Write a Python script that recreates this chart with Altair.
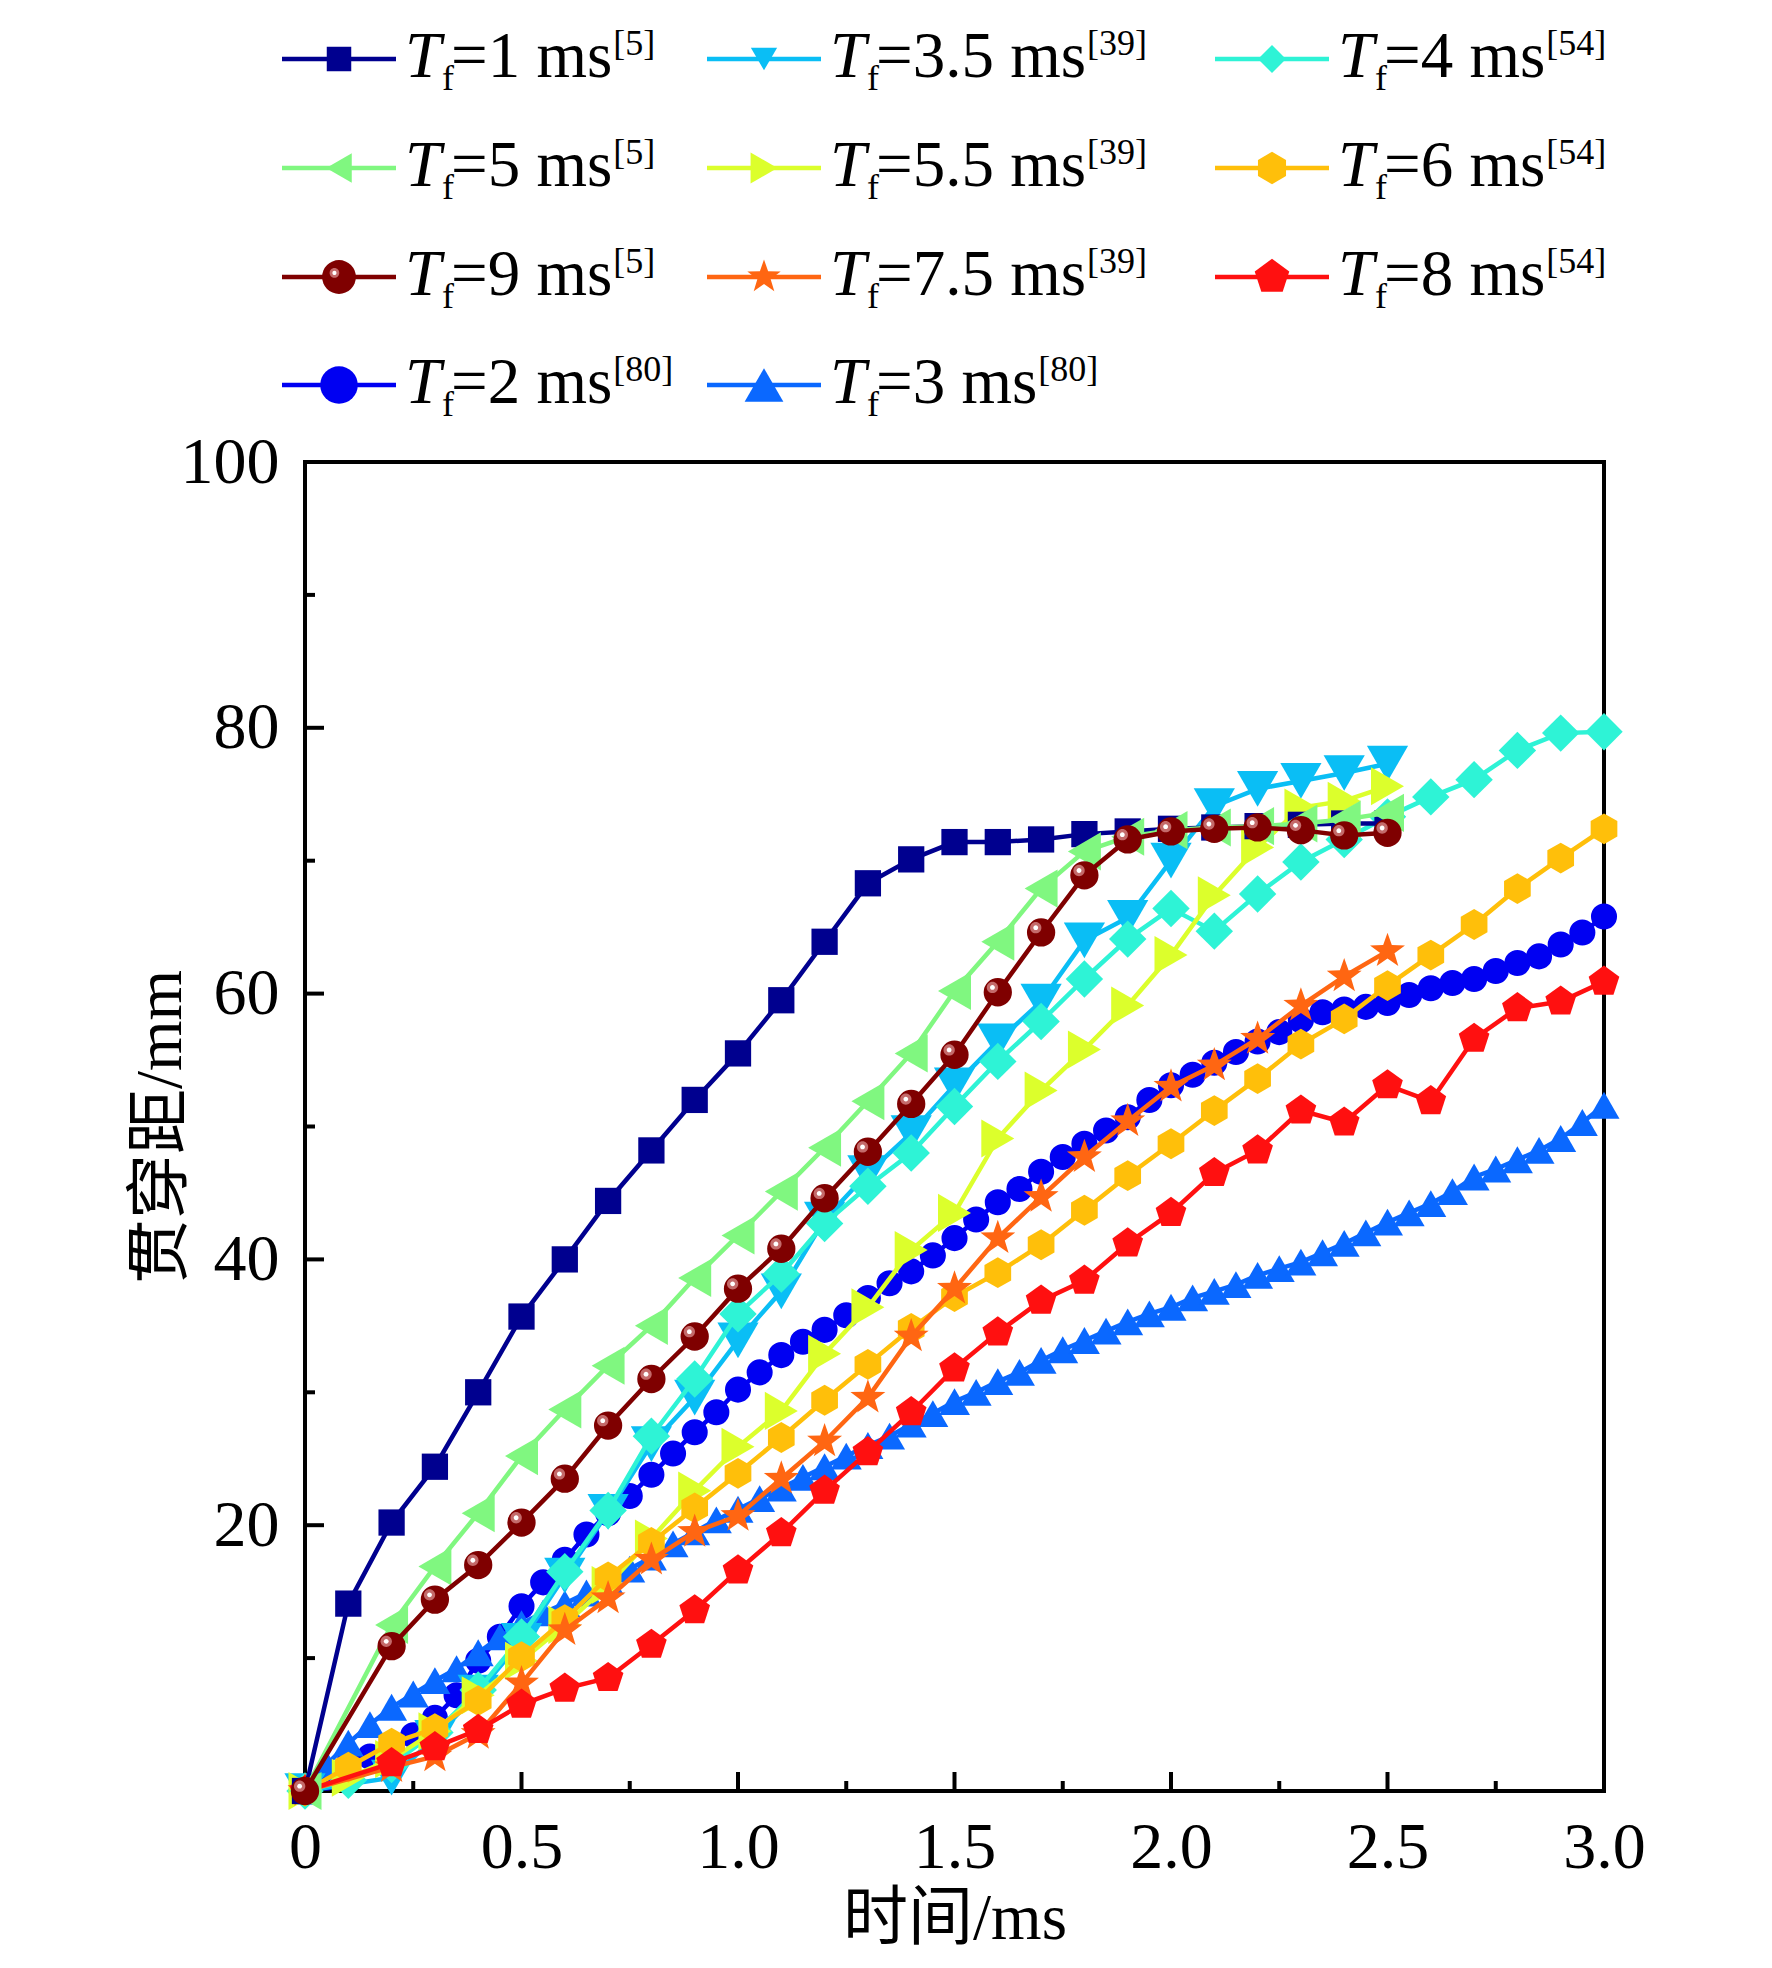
import altair as alt
import pandas as pd

# ------------------------------------------------------------------ data
T_01_25 = [round(0.1 * i, 2) for i in range(26)]            # 0 .. 2.5
T_0_02_25 = [0.0] + [round(0.1 * i, 2) for i in range(2, 26)]  # 0, 0.2 .. 2.5
T_01_30 = [round(0.1 * i, 2) for i in range(31)]            # 0 .. 3.0
T_0_02_30 = [0.0] + [round(0.1 * i, 2) for i in range(2, 31)]  # 0, 0.2 .. 3.0
T_005_30 = [round(0.05 * i, 2) for i in range(61)]          # 0 .. 3.0 step 0.05

Y_1MS = [0, 14.1, 20.2, 24.4, 30.0, 35.7, 40.0, 44.4, 48.2, 52.0, 55.5, 59.5, 63.9,
         68.3, 70.1, 71.4, 71.4, 71.6, 72.0, 72.2, 72.4, 72.5, 72.6, 72.7, 72.8, 72.8]
Y_35MS = [0, 1.0, 4.0, 7.4, 11.3, 16.2, 21.0, 26.1, 29.6, 33.9, 37.6, 43.0, 46.5,
          49.5, 53.1, 56.4, 59.4, 64.0, 65.7, 70.0, 74.1, 75.4, 76.0, 76.6, 77.3]
Y_4MS = [0, 0.8, 2.0, 4.4, 7.6, 11.6, 16.5, 21.1, 26.7, 31.0, 35.9, 38.9, 42.7, 45.5,
         48.0, 51.5, 54.9, 57.9, 61.1, 64.1, 66.4, 64.7, 67.5, 69.9, 71.6, 73.3, 74.8,
         76.1, 78.3, 79.6, 79.7]
Y_5MS = [0, 12.5, 16.9, 20.9, 25.2, 28.7, 32.0, 35.0, 38.6, 41.8, 45.1, 48.4, 51.9,
         55.5, 60.2, 63.9, 67.9, 70.7, 71.8, 72.3, 72.5, 72.6, 72.8, 73.1, 73.6]
Y_55MS = [0, 1.0, 2.4, 4.5, 7.2, 9.8, 12.5, 15.5, 19.0, 22.6, 25.9, 28.6, 32.9, 36.4,
          40.7, 43.5, 49.1, 52.7, 55.8, 59.1, 62.9, 67.4, 71.0, 74.0, 74.5, 75.6]
Y_6MS = [0, 1.8, 3.6, 4.7, 6.8, 10.1, 12.9, 16.1, 18.7, 21.3, 23.9, 26.6, 29.4, 32.1,
         34.8, 37.2, 39.0, 41.1, 43.7, 46.3, 48.7, 51.2, 53.6, 56.2, 58.1, 60.6, 62.9,
         65.2, 67.9, 70.2, 72.4]
Y_9MS = [0, 10.9, 14.4, 17.0, 20.2, 23.5, 27.5, 31.0, 34.2, 37.8, 40.8, 44.6, 48.1,
         51.7, 55.4, 60.1, 64.6, 68.9, 71.6, 72.2, 72.4, 72.5, 72.3, 71.9, 72.1]
Y_75MS = [0, 1.8, 2.6, 4.3, 8.1, 12.1, 14.5, 17.4, 19.5, 20.7, 23.5, 26.3, 29.6, 34.2,
          37.8, 41.6, 44.7, 47.7, 50.4, 53.0, 54.6, 56.6, 59.1, 61.3, 63.2]
Y_8MS = [0, 2.1, 3.3, 4.6, 6.5, 7.7, 8.5, 11.0, 13.6, 16.6, 19.4, 22.6, 25.5, 28.5,
         31.8, 34.5, 36.9, 38.4, 41.2, 43.5, 46.5, 48.2, 51.2, 50.3, 53.1, 51.9, 56.6,
         58.9, 59.4, 60.9]
Y_2MS = [0, 1.0, 2.0, 2.6, 3.3, 4.2, 5.5, 7.2, 9.8, 11.6, 13.9, 15.7, 17.4, 19.3, 20.9,
         22.2, 23.8, 25.4, 27.0, 28.5, 30.2, 31.5, 32.8, 33.8, 34.7, 35.8, 37.1, 38.2,
         39.1, 40.3, 41.6, 43.0, 44.3, 45.3, 46.6, 47.7, 48.7, 49.7, 50.7, 52.0, 53.1,
         53.9, 54.8, 55.6, 56.4, 57.1, 58.0, 58.6, 58.8, 59.0, 59.3, 59.9, 60.4, 60.8,
         61.1, 61.7, 62.3, 62.8, 63.7, 64.6, 65.8]
Y_3MS = [0, 2.0, 3.6, 5.0, 6.3, 7.3, 8.3, 9.2, 10.4, 11.6, 12.6, 13.4, 14.1, 14.9, 15.8,
         16.7, 17.6, 18.6, 19.5, 20.4, 21.2, 22.0, 22.8, 23.6, 24.4, 25.2, 26.0, 26.7,
         27.6, 28.4, 29.3, 30.0, 30.8, 31.5, 32.4, 33.2, 33.9, 34.6, 35.3, 35.9, 36.4,
         37.1, 37.6, 38.1, 38.8, 39.3, 39.8, 40.5, 41.2, 42.0, 42.8, 43.5, 44.2, 45.1,
         46.2, 46.8, 47.5, 48.2, 49.1, 50.3, 51.6]

# legend order (row-major, 3 columns)
KEYS = ["1", "3.5", "4", "5", "5.5", "6", "9", "7.5", "8", "2", "3"]
LABELS = ["=1 ms", "=3.5 ms", "=4 ms", "=5 ms", "=5.5 ms", "=6 ms",
          "=9 ms", "=7.5 ms", "=8 ms", "=2 ms", "=3 ms"]
REFS = ["[5]", "[39]", "[54]", "[5]", "[39]", "[54]", "[5]", "[39]", "[54]", "[80]", "[80]"]

X_TICKS = [0, 0.5, 1.0, 1.5, 2.0, 2.5, 3.0]
Y_TICKS = [20, 40, 60, 80, 100]
X_MINOR = [0.25, 0.75, 1.25, 1.75, 2.25, 2.75]
X_MAJOR_IN = [0.5, 1.0, 1.5, 2.0, 2.5]
Y_MINOR = [10, 30, 50, 70, 90]
Y_MAJOR_IN = [20, 40, 60, 80]

# ------------------------------------------------------------------ styles
STAR = ("M0,-1 L0.235,-0.324 L0.951,-0.309 L0.380,0.124 L0.588,0.809 L0,0.4 "
        "L-0.588,0.809 L-0.380,0.124 L-0.951,-0.309 L-0.235,-0.324 Z")
PENT = "M0,-1 L0.951,-0.309 L0.588,0.809 L-0.588,0.809 L-0.951,-0.309 Z"
HEX = "M0,-1 L0.866,-0.5 L0.866,0.5 L0,1 L-0.866,0.5 L-0.866,-0.5 Z"


def circ(cx, cy, r):
    return (f"M{cx - r},{cy} A{r},{r} 0 1,0 {cx + r},{cy} "
            f"A{r},{r} 0 1,0 {cx - r},{cy} Z")


HL1 = circ(-0.38, -0.34, 0.40)
HL2 = circ(-0.38, -0.34, 0.17)

# size = plot marker size, lsize = legend marker size
STYLE = {
    "1":   dict(t=T_01_25,  y=Y_1MS,  color="#00008F", shape="square",         size=690,  lsize=600),
    "3.5": dict(t=T_0_02_25, y=Y_35MS, color="#0ABEF5", shape="triangle-down", size=1700, lsize=1500),
    "4":   dict(t=T_01_30,  y=Y_4MS,  color="#2EF3D6", shape="diamond",        size=1400, lsize=1200),
    "5":   dict(t=T_0_02_25, y=Y_5MS,  color="#80F780", shape="triangle-left", size=1450, lsize=1200),
    "5.5": dict(t=T_01_25,  y=Y_55MS, color="#DCFF2C", shape="triangle-right", size=1450, lsize=1200),
    "6":   dict(t=T_01_30,  y=Y_6MS,  color="#FFBF0A", shape=HEX,              size=950,  lsize=760),
    "9":   dict(t=T_0_02_25, y=Y_9MS,  color="#7F0000", shape="circle",        size=800,  lsize=580),
    "7.5": dict(t=T_0_02_25, y=Y_75MS, color="#FF6612", shape=STAR,            size=1350, lsize=1000),
    "8":   dict(t=T_0_02_30, y=Y_8MS,  color="#FF1010", shape=PENT,            size=1040, lsize=760),
    "2":   dict(t=T_005_30, y=Y_2MS,  color="#0000F2", shape="circle",         size=680,  lsize=500),
    "3":   dict(t=T_005_30, y=Y_3MS,  color="#0A68FF", shape="triangle-up",    size=960,  lsize=760),
}
DRAW_ORDER = ["2", "3", "3.5", "4", "5.5", "6", "7.5", "8", "1", "5", "9"]
LW = 4.5

SERIF = "Liberation Serif"
CJK = "Liberation Serif, Noto Sans CJK SC"

# plot geometry (page pixels)
W, H = 1299, 1329
PL, PT = 305, 462          # plot origin on the page
PX_X = W / 3.0             # px per ms
PX_Y = H / 100.0           # px per mm

XS = alt.Scale(domain=[0, 3], nice=False, zero=False)
YS = alt.Scale(domain=[0, 100], nice=False, zero=False)

XAX = alt.Axis(values=X_TICKS,
               labelExpr="datum.value == 0 ? '0' : format(datum.value, '.1f')",
               ticks=False, domain=False, grid=False, tickSize=0,
               labelFont=SERIF, labelFontSize=66, labelColor="black",
               labelPadding=24, labelFlush=False, labelOverlap=False,
               titleFont=CJK, titleFontSize=65, titleFontWeight="normal",
               titleColor="black", titleX=W / 2, titleY=147,
               titleBaseline="alphabetic")
YAX = alt.Axis(values=Y_TICKS, ticks=False, domain=False, grid=False, tickSize=0,
               labelFont=SERIF, labelFontSize=66, labelColor="black",
               labelPadding=26, labelFlush=False, labelOverlap=False,
               titleFont=CJK, titleFontSize=65, titleFontWeight="normal",
               titleColor="black", titleX=-125, titleY=H / 2, titleAngle=-90,
               titleBaseline="alphabetic")


def X(f):
    return alt.X(f, type="quantitative", scale=XS, axis=XAX, title="时间/ms")


def Y(f):
    return alt.Y(f, type="quantitative", scale=YS, axis=YAX, title="贯穿距/mm")


def page_to_x(px):
    return (px - PL) / PX_X


def page_to_y(py):
    return 100 - (py - PT) / PX_Y


layers = []

# ---------------------------------------------------------------- series
for k in DRAW_ORDER:
    s = STYLE[k]
    df = pd.DataFrame({"t": s["t"], "d": s["y"]})
    base = alt.Chart(df).encode(x=X("t"), y=Y("d"))
    layers.append(base.mark_line(color=s["color"], strokeWidth=LW))
    layers.append(base.mark_point(filled=True, shape=s["shape"], size=s["size"],
                                  color=s["color"], opacity=1, strokeWidth=0))
    if k == "9":
        layers.append(base.mark_point(filled=True, shape=HL1, size=s["size"],
                                      color="#C46A6A", opacity=1, strokeWidth=0))
        layers.append(base.mark_point(filled=True, shape=HL2, size=s["size"],
                                      color="#FFFFFF", opacity=1, strokeWidth=0))

# ---------------------------------------------------------------- inward ticks
def xticks(vals, length):
    return alt.Chart(pd.DataFrame({"t": vals})).mark_rule(
        color="black", strokeWidth=4).encode(
        x=X("t"), y=alt.value(H), y2=alt.value(H - length))


def yticks(vals, length):
    return alt.Chart(pd.DataFrame({"d": vals})).mark_rule(
        color="black", strokeWidth=4).encode(
        y=Y("d"), x=alt.value(0), x2=alt.value(length))


layers += [xticks(X_MAJOR_IN, 19), xticks(X_MINOR, 10),
           yticks(Y_MAJOR_IN, 19), yticks(Y_MINOR, 10)]

# ---------------------------------------------------------------- custom legend
COL_X = [282, 707, 1215]
ROW_Y = [59, 168, 277, 385]
LINE_LEN = 114
T_OFF = 123
LEG_FS = 65
SMALL_FS = 36
CW = {"=": 0.564, ".": 0.25, " ": 0.25, "m": 0.778, "s": 0.389}


def twidth(txt):
    return sum(CW.get(c, 0.5) for c in txt) * LEG_FS


rows = []
for i, k in enumerate(KEYS):
    r, c = divmod(i, 3)
    x0, y0 = COL_X[c], ROW_Y[r]
    tx = x0 + T_OFF
    rows.append(dict(
        key=k, label=LABELS[i], ref=REFS[i],
        lx1=page_to_x(x0), lx2=page_to_x(x0 + LINE_LEN), ly=page_to_y(y0),
        mx=page_to_x(x0 + LINE_LEN / 2),
        tx=page_to_x(tx), fx=page_to_x(tx + 37), ex=page_to_x(tx + 46),
        sx=page_to_x(tx + 46 + twidth(LABELS[i]) + 1),
        yb=page_to_y(y0 + 17.5), ysub=page_to_y(y0 + 30.5), ysup=page_to_y(y0 - 4.5),
    ))
leg = pd.DataFrame(rows)

CS = alt.Scale(domain=KEYS, range=[STYLE[k]["color"] for k in KEYS])
SS = alt.Scale(domain=KEYS, range=[STYLE[k]["shape"] for k in KEYS])
ZS = alt.Scale(domain=KEYS, range=[STYLE[k]["lsize"] for k in KEYS])
lb = alt.Chart(leg)
layers.append(lb.mark_rule(strokeWidth=LW).encode(
    x=X("lx1"), x2="lx2", y=Y("ly"),
    color=alt.Color("key:N", scale=CS, legend=None)))
layers.append(lb.mark_point(filled=True, opacity=1, strokeWidth=0).encode(
    x=X("mx"), y=Y("ly"),
    color=alt.Color("key:N", scale=CS, legend=None),
    shape=alt.Shape("key:N", scale=SS, legend=None),
    size=alt.Size("key:N", scale=ZS, legend=None)))
ball = lb.transform_filter(alt.datum.key == "9")
layers.append(ball.mark_point(filled=True, shape=HL1, size=STYLE["9"]["lsize"],
                              color="#C46A6A", opacity=1, strokeWidth=0).encode(
    x=X("mx"), y=Y("ly")))
layers.append(ball.mark_point(filled=True, shape=HL2, size=STYLE["9"]["lsize"],
                              color="#FFFFFF", opacity=1, strokeWidth=0).encode(
    x=X("mx"), y=Y("ly")))
layers.append(lb.mark_text(text="T", font=SERIF, fontStyle="italic", fontSize=LEG_FS,
                           align="left", baseline="alphabetic", color="black").encode(
    x=X("tx"), y=Y("yb")))
layers.append(lb.mark_text(text="f", font=SERIF, fontSize=SMALL_FS,
                           align="left", baseline="alphabetic", color="black").encode(
    x=X("fx"), y=Y("ysub")))
layers.append(lb.mark_text(font=SERIF, fontSize=LEG_FS, align="left",
                           baseline="alphabetic", color="black").encode(
    x=X("ex"), y=Y("yb"), text="label:N"))
layers.append(lb.mark_text(font=SERIF, fontSize=SMALL_FS, align="left",
                           baseline="alphabetic", color="black").encode(
    x=X("sx"), y=Y("ysup"), text="ref:N"))

chart = alt.layer(*layers).properties(
    width=W, height=H,
    autosize=alt.AutoSizeParams(type="none"),
    padding={"left": PL - 8, "top": PT - 8, "right": 1772 - 16 - (PL - 8) - W,
             "bottom": 1968 - 16 - (PT - 8) - H},
    background="white",
).configure_view(stroke="black", strokeWidth=4)

chart.save("out.html", embed_options={"renderer": "svg", "actions": False})
